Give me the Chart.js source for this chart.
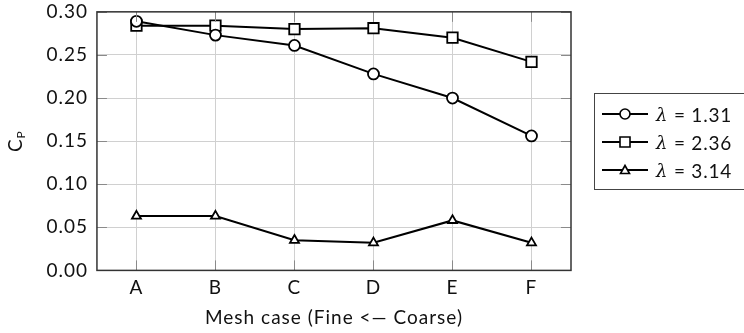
<!DOCTYPE html>
<html>
<head>
<meta charset="utf-8">
<script src="https://cdn.jsdelivr.net/npm/chart.js@4.4.1/dist/chart.umd.min.js"></script>
<style>
  html, body { margin: 0; padding: 0; background: #fff; }
  #wrap { position: relative; width: 744px; height: 333px; }
  #legend {
    position: absolute; left: 594px; top: 93px; width: 150px; height: 97px;
    border: 1.5px solid #444; border-right: none; box-sizing: border-box; background: #fff;
    font-family: Lato, "Open Sans", sans-serif; font-size: 19px; color: #111;
    letter-spacing: 0.8px; padding-top: 6px;
  }
  .row { display: flex; align-items: center; height: 28px; white-space: nowrap; }
  .row canvas { margin-left: 7px; margin-right: 8px; }
  .lam { font-family: "DejaVu Serif", serif; font-style: italic; font-size: 18px; }
</style>
</head>
<body>
<div id="wrap">
  <canvas id="c" width="744" height="333"></canvas>
  <div id="legend"></div>
</div>
<script>
// Mesh cases and power coefficient per tip-speed ratio
const meshCases = ['A', 'B', 'C', 'D', 'E', 'F'];
const cpLambda131 = [0.289, 0.273, 0.261, 0.228, 0.200, 0.156];
const cpLambda236 = [0.284, 0.284, 0.280, 0.281, 0.270, 0.242];
const cpLambda314 = [0.063, 0.063, 0.035, 0.032, 0.058, 0.032];
const seriesLabels = ['λ = 1.31', 'λ = 2.36', 'λ = 3.14'];
const yTicks = [0, 0.05, 0.10, 0.15, 0.20, 0.25, 0.30];

const FONT = 'Lato, "Open Sans", sans-serif';
const FS = 19;
const LS = '1px';

const styles = [
  { pointStyle: 'circle', radius: 5.5 },
  { pointStyle: 'rect', radius: 7.4 },
  { pointStyle: 'triangle', radius: 5.2 }
];
const seriesData = [cpLambda131, cpLambda236, cpLambda314];

const datasets = seriesData.map((d, i) => ({
  label: seriesLabels[i],
  data: d,
  borderColor: '#000',
  borderWidth: 2,
  backgroundColor: '#fff',
  pointStyle: styles[i].pointStyle,
  pointRadius: styles[i].radius,
  pointBorderWidth: 1.8,
  pointBackgroundColor: '#fff',
  pointBorderColor: '#000',
  tension: 0,
  fill: false,
  clip: false
}));

// Slightly open letter spacing for all canvas text (set before measuring and drawing)
const spacing = {
  id: 'spacing',
  beforeLayout(chart) { chart.ctx.letterSpacing = LS; },
  beforeDraw(chart) { chart.ctx.letterSpacing = LS; }
};

// Inward tick marks on all four sides, plus frame and y-axis title
const frameTicks = {
  id: 'frameTicks',
  afterDraw(chart) {
    const { ctx, chartArea: a, scales } = chart;
    const len = 10;
    ctx.save();
    ctx.strokeStyle = '#8a8a8a';
    ctx.lineWidth = 1;
    yTicks.forEach(v => {
      const y = Math.round(scales.y.getPixelForValue(v)) + 0.5;
      ctx.beginPath();
      ctx.moveTo(a.left, y); ctx.lineTo(a.left + len, y);
      ctx.moveTo(a.right, y); ctx.lineTo(a.right - len, y);
      ctx.stroke();
    });
    meshCases.forEach((c, i) => {
      const x = Math.round(scales.x.getPixelForValue(i)) + 0.5;
      ctx.beginPath();
      ctx.moveTo(x, a.top); ctx.lineTo(x, a.top + len);
      ctx.moveTo(x, a.bottom); ctx.lineTo(x, a.bottom - len);
      ctx.stroke();
    });
    ctx.strokeStyle = '#333';
    ctx.lineWidth = 1.5;
    ctx.strokeRect(a.left, a.top, a.right - a.left, a.bottom - a.top);

    // y-axis title: C with subscript P
    const cy = (a.top + a.bottom) / 2;
    ctx.translate(22, cy);
    ctx.rotate(-Math.PI / 2);
    ctx.fillStyle = '#111';
    ctx.textBaseline = 'alphabetic';
    ctx.font = FS + 'px ' + FONT;
    const wC = ctx.measureText('C').width;
    ctx.font = '12px ' + FONT;
    const wP = ctx.measureText('P').width;
    const start = -(wC + wP) / 2;
    ctx.font = FS + 'px ' + FONT;
    ctx.fillText('C', start, 0);
    ctx.font = '12px ' + FONT;
    ctx.fillText('P', start + wC, 3);
    ctx.restore();
  }
};

new Chart(document.getElementById('c'), {
  type: 'line',
  data: { labels: meshCases, datasets },
  options: {
    responsive: false,
    animation: false,
    layout: { padding: { left: 5, right: 173, top: 8, bottom: -4 } },
    plugins: {
      legend: { display: false },
      tooltip: { enabled: false }
    },
    scales: {
      x: {
        offset: true,
        grid: { color: '#d0d0d0', lineWidth: 1, drawTicks: false, offset: false },
        border: { display: false },
        ticks: { color: '#111', font: { family: FONT, size: FS }, padding: 6 },
        title: {
          display: true, text: 'Mesh case (Fine <— Coarse)',
          color: '#111', font: { family: FONT, size: FS }, padding: { top: 1, bottom: 8 }
        }
      },
      y: {
        min: 0, max: 0.30,
        afterBuildTicks(scale) { scale.ticks = yTicks.map(v => ({ value: v })); },
        grid: { color: '#d0d0d0', lineWidth: 1, drawTicks: false },
        border: { display: false },
        ticks: {
          color: '#111', font: { family: FONT, size: FS, lineHeight: 0.3 }, padding: 9,
          callback: v => Number(v).toFixed(2)
        },
        title: { display: true, text: ' ', font: { size: 17 }, padding: 6 }
      }
    }
  },
  plugins: [spacing, frameTicks]
});

// Legend entries: line through marker, then label
const legend = document.getElementById('legend');
styles.forEach((s, i) => {
  const row = document.createElement('div');
  row.className = 'row';
  const cv = document.createElement('canvas');
  cv.width = 46; cv.height = 16;
  const g = cv.getContext('2d');
  g.strokeStyle = '#000'; g.lineWidth = 2;
  g.beginPath(); g.moveTo(0, 8); g.lineTo(46, 8); g.stroke();
  g.fillStyle = '#fff'; g.lineWidth = 1.6;
  g.beginPath();
  if (s.pointStyle === 'circle') {
    g.arc(23, 8, 5, 0, Math.PI * 2);
  } else if (s.pointStyle === 'rect') {
    g.rect(18, 3, 10, 10);
  } else {
    g.moveTo(23, 3.5); g.lineTo(27.5, 11.5); g.lineTo(18.5, 11.5); g.closePath();
  }
  g.fill(); g.stroke();
  row.appendChild(cv);
  const parts = seriesLabels[i].split(' = ');
  const lam = document.createElement('span');
  lam.className = 'lam';
  lam.textContent = parts[0];
  row.appendChild(lam);
  row.appendChild(document.createTextNode('\u00a0=\u00a0' + parts[1]));
  legend.appendChild(row);
});
</script>
</body>
</html>
